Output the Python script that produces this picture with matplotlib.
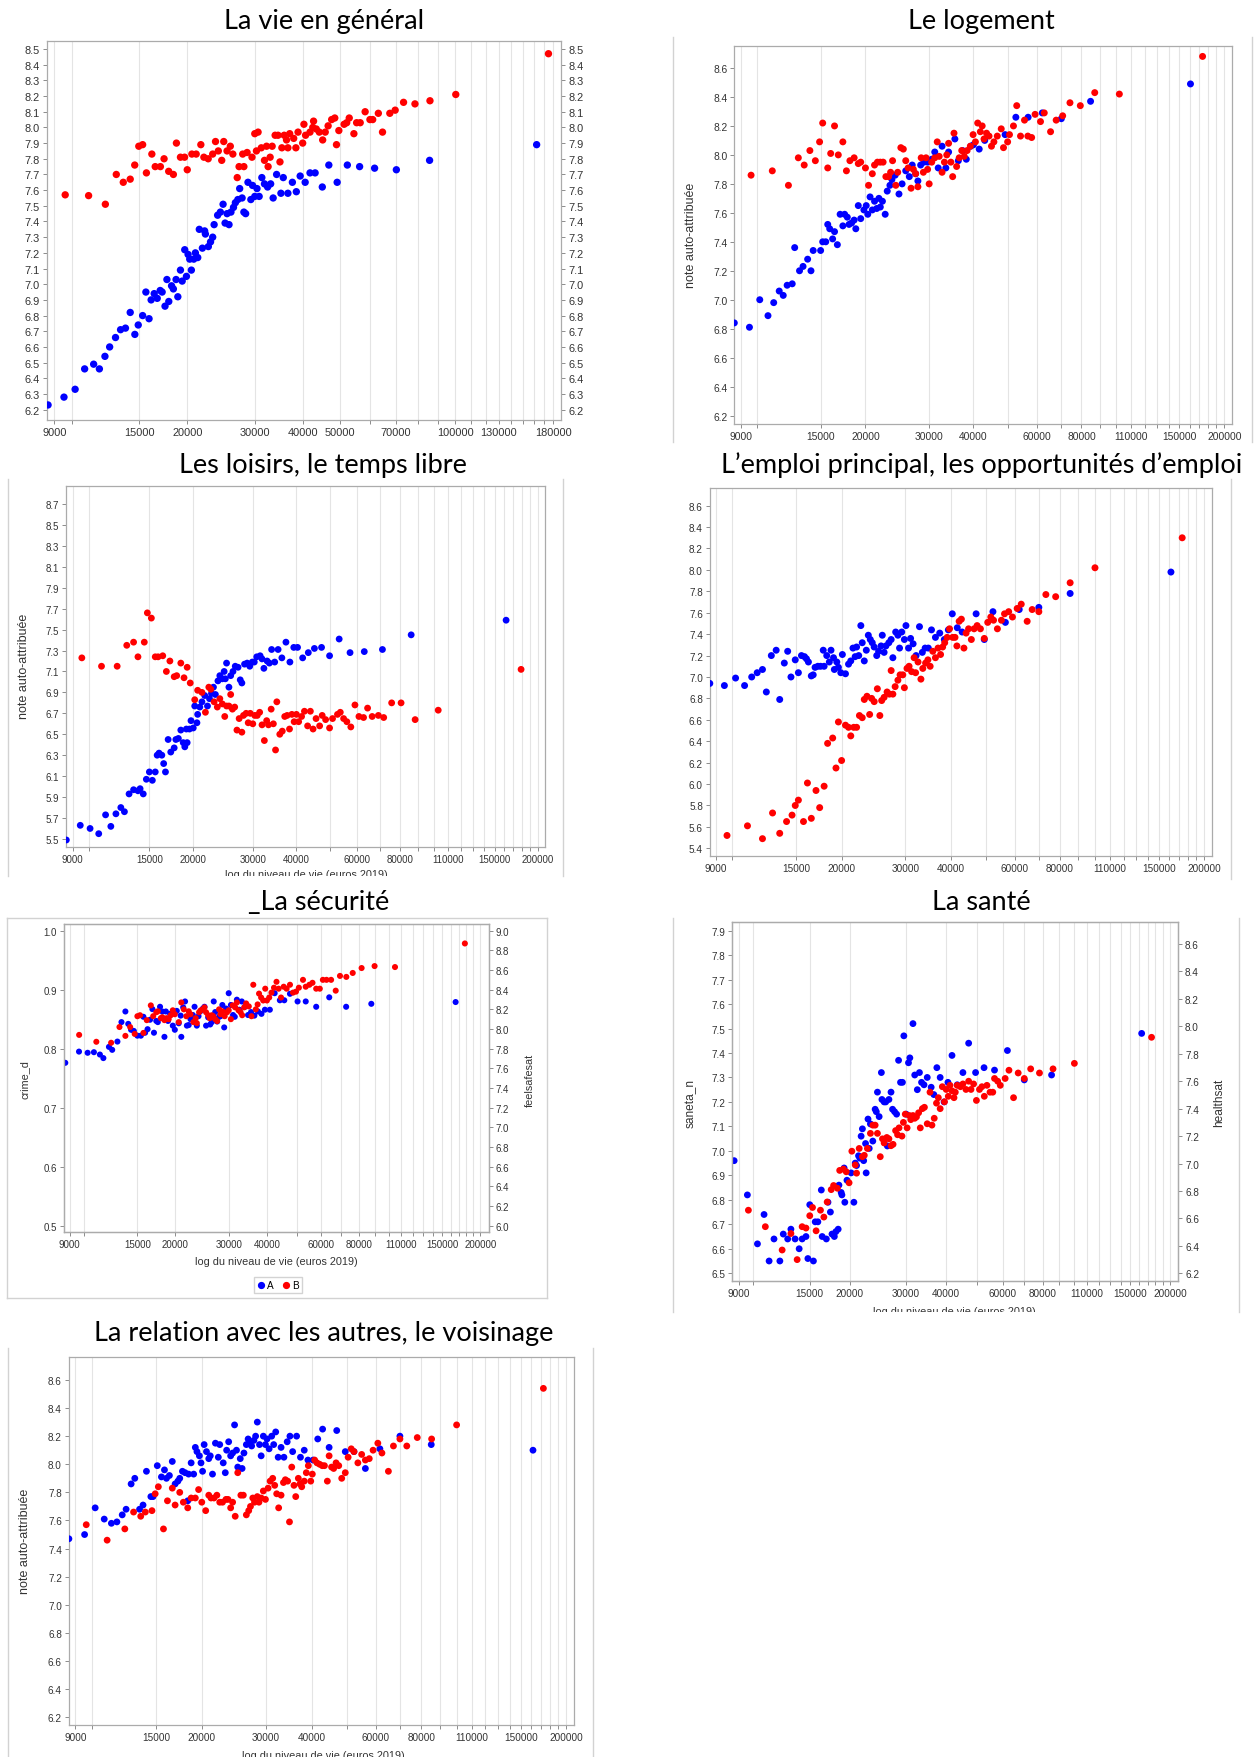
import matplotlib
matplotlib.use("Agg")
import matplotlib.pyplot as plt
import matplotlib.ticker as mticker
from matplotlib import font_manager as fm
from matplotlib.lines import Line2D
from matplotlib.transforms import Bbox, TransformedBbox
import numpy as np


def pick_font(names):
    for n in names:
        try:
            fm.findfont(fm.FontProperties(family=n), fallback_to_default=False)
            return n
        except Exception:
            pass
    return "DejaVu Sans"


TICK_FONT = pick_font(["Liberation Sans", "Arial"])
TITLE_FONT = pick_font(["Lato", "Open Sans"])
plt.rcParams["font.family"] = [TICK_FONT, "DejaVu Sans"]

# x axis: log du niveau de vie (euros 2019)
grid_vals = [9000, 10000, 15000, 20000] + list(range(30000, 210000, 10000))
labels_vie = [9000, 15000, 20000, 30000, 40000, 50000, 70000, 100000, 130000, 180000]
labels_std = [9000, 15000, 20000, 30000, 40000, 60000, 80000, 110000, 150000, 200000]

# ---- La vie en general (A = blue, B = red) ----
vie_a = [(8670, 6.23), (9540, 6.28), (10200, 6.33), (10800, 6.46), (11400, 6.49), (11800, 6.46),
         (12200, 6.54), (12550, 6.60), (13000, 6.66), (13400, 6.71), (13800, 6.72), (14200, 6.82),
         (14600, 6.68), (14900, 6.74), (15300, 6.80), (15600, 6.95), (15900, 6.78), (16100, 6.90),
         (16400, 6.94), (16700, 6.91), (17000, 6.96), (17200, 6.95), (17500, 6.86), (17700, 7.03),
         (17900, 6.89), (18200, 6.99), (18400, 6.97), (18700, 7.03), (18900, 6.92), (19200, 7.09),
         (19400, 7.02), (19700, 7.22), (19900, 7.05), (20100, 7.19), (20300, 7.16), (20500, 7.09),
         (20800, 7.16), (21000, 7.20), (21300, 7.17), (21500, 7.35), (21900, 7.23), (22200, 7.34),
         (22300, 7.32), (22700, 7.24), (23000, 7.27), (23300, 7.30), (23500, 7.38), (24000, 7.44),
         (24400, 7.46), (24800, 7.51), (25100, 7.39), (25400, 7.45), (25700, 7.38), (26000, 7.46),
         (26400, 7.49), (26700, 7.52), (27100, 7.54), (27400, 7.61), (27800, 7.55), (28100, 7.46),
         (28400, 7.45), (28800, 7.65), (29300, 7.54), (29600, 7.63), (30000, 7.56), (30400, 7.61),
         (30800, 7.56), (31300, 7.68), (31800, 7.64), (32400, 7.62), (33000, 7.64), (33500, 7.55),
         (34200, 7.70), (35100, 7.58), (35600, 7.68), (36600, 7.58), (37600, 7.65), (38500, 7.59),
         (39400, 7.69), (40600, 7.65), (41800, 7.71), (43100, 7.71), (45000, 7.62), (46800, 7.76),
         (49200, 7.65), (52300, 7.76), (56300, 7.75), (61600, 7.74), (70200, 7.73), (85700, 7.79),
         (163000, 7.89)]
vie_b = [(9610, 7.57), (11060, 7.565), (12230, 7.51), (13060, 7.70), (13620, 7.65), (14200, 7.67),
         (14590, 7.76), (14950, 7.88), (15300, 7.89), (15650, 7.71), (16170, 7.83), (16500, 7.75),
         (17020, 7.75), (17400, 7.80), (17890, 7.72), (18400, 7.70), (18740, 7.90), (19200, 7.81),
         (19680, 7.81), (20000, 7.73), (20560, 7.83), (21100, 7.83), (21700, 7.89), (22100, 7.81),
         (22680, 7.80), (23300, 7.83), (23700, 7.91), (24100, 7.85), (24600, 7.79), (24900, 7.91),
         (25400, 7.85), (25900, 7.88), (26300, 7.83), (27000, 7.68), (27300, 7.75), (28100, 7.75),
         (27900, 7.83), (28650, 7.84), (29500, 7.81), (30000, 7.96), (30600, 7.97), (30300, 7.85),
         (31200, 7.87), (31800, 7.79), (32200, 7.88), (32500, 7.75), (32900, 7.81), (33300, 7.88),
         (33900, 7.95), (34500, 7.95), (34900, 7.78), (35300, 7.87), (35800, 7.95), (36300, 7.92),
         (36600, 7.87), (37000, 7.96), (37900, 7.93), (38400, 7.87), (38900, 7.97), (40000, 7.90),
         (40300, 8.02), (40700, 7.95), (41800, 7.97), (42500, 8.00), (42700, 8.04), (43400, 7.99),
         (44200, 7.97), (45100, 7.92), (45800, 7.97), (46600, 8.01), (47600, 8.05), (48500, 8.06),
         (49000, 7.89), (49700, 7.98), (51300, 8.02), (52100, 8.03), (52900, 8.06), (54400, 7.96),
         (55300, 8.03), (56500, 8.03), (58200, 8.10), (59900, 8.05), (60900, 8.05), (63000, 8.09),
         (64600, 7.97), (67500, 8.09), (69700, 8.11), (73300, 8.16), (78500, 8.15), (85900, 8.17),
         (100300, 8.21), (175000, 8.47)]

# ---- Le logement ----
logement_a = [(8620, 6.84), (9500, 6.81), (10150, 7.00), (10700, 6.89), (11100, 6.98), (11500, 7.06),
              (11800, 7.03), (12100, 7.10), (12500, 7.11), (12700, 7.36), (13100, 7.20), (13400, 7.23),
              (13800, 7.28), (14100, 7.20), (14300, 7.34), (15000, 7.34), (15200, 7.40), (15500, 7.40),
              (15700, 7.52), (15900, 7.49), (16200, 7.42), (16400, 7.47), (16700, 7.38), (17000, 7.59),
              (17300, 7.51), (17500, 7.59), (17800, 7.57), (18000, 7.52), (18300, 7.53), (18600, 7.55),
              (18800, 7.49), (19100, 7.65), (19400, 7.56), (19800, 7.62), (20100, 7.65), (20300, 7.59),
              (20600, 7.71), (20900, 7.62), (21200, 7.68), (21500, 7.63), (21800, 7.70), (22000, 7.64),
              (22300, 7.68), (22700, 7.59), (23000, 7.75), (23400, 7.79), (23700, 7.83), (24200, 7.86),
              (24800, 7.73), (25300, 7.80), (25900, 7.89), (26500, 7.85), (27000, 7.93), (27600, 7.87),
              (28000, 7.82), (28500, 7.93), (29100, 7.95), (29800, 7.95), (30600, 7.97), (31200, 8.02),
              (31900, 7.91), (32700, 8.06), (33500, 7.91), (34100, 8.02), (35500, 8.11), (36300, 7.96),
              (37300, 8.03), (38200, 7.97), (39300, 8.06), (40000, 8.07), (41500, 8.04), (43000, 8.10),
              (49000, 8.14), (52500, 8.26), (56800, 8.26), (62200, 8.29), (70300, 8.25), (84800, 8.37),
              (161000, 8.49)]
logement_b = [(9600, 7.86), (11000, 7.89), (12200, 7.79), (13000, 7.98), (13500, 7.93), (14000, 8.03),
              (14500, 7.96), (14900, 8.09), (15200, 8.22), (15700, 7.91), (16000, 8.01), (16400, 8.20),
              (16800, 8.00), (17300, 8.09), (17700, 7.89), (18100, 7.96), (18600, 7.98), (19100, 7.94),
              (19400, 7.95), (20000, 7.91), (20400, 7.79), (20900, 7.87), (21200, 7.93), (21600, 7.95),
              (22000, 7.95), (22400, 7.95), (22800, 7.85), (23200, 7.85), (23500, 7.88), (23800, 7.96),
              (24300, 7.79), (24600, 7.88), (25100, 8.05), (25500, 8.04), (25900, 7.96), (26300, 7.91),
              (26800, 7.77), (27200, 7.90), (27600, 7.87), (28000, 7.78), (28600, 7.98), (29000, 7.88),
              (29500, 7.98), (29800, 7.90), (30100, 7.80), (30600, 7.95), (31200, 7.98), (31700, 8.09),
              (32100, 7.99), (32700, 7.88), (33200, 7.95), (33700, 8.00), (34100, 8.08), (34600, 7.95),
              (35000, 7.85), (35300, 8.15), (35900, 7.92), (36500, 7.98), (37100, 8.03), (37700, 7.99),
              (38400, 8.03), (39200, 8.06), (39900, 8.14), (40500, 8.09), (41100, 8.22), (41800, 8.16),
              (42300, 8.20), (42800, 8.11), (43500, 8.15), (44200, 8.13), (44900, 8.06), (45600, 8.09),
              (46600, 8.13), (47800, 8.18), (48500, 8.05), (49800, 8.09), (50400, 8.14), (51700, 8.20),
              (52800, 8.34), (54100, 8.13), (55500, 8.24), (56700, 8.13), (58100, 8.12), (59400, 8.28),
              (61500, 8.23), (63000, 8.29), (65600, 8.16), (68000, 8.24), (70900, 8.27), (74300, 8.36),
              (79400, 8.34), (87100, 8.43), (102000, 8.42), (174000, 8.68)]

# ---- Les loisirs, le temps libre ----
loisirs_a = [(8620, 5.49), (9460, 5.63), (10100, 5.60), (10700, 5.55), (11200, 5.73), (11600, 5.62),
             (12000, 5.74), (12400, 5.80), (12700, 5.76), (13100, 5.93), (13500, 5.97), (13900, 5.96),
             (14100, 5.98), (14400, 5.93), (14700, 6.07), (15000, 6.14), (15300, 6.06), (15600, 6.14),
             (15800, 6.30), (16000, 6.32), (16300, 6.30), (16500, 6.22), (16700, 6.14), (17000, 6.45),
             (17300, 6.33), (17700, 6.37), (17900, 6.45), (18200, 6.46), (18500, 6.54), (18800, 6.42),
             (19000, 6.38), (19300, 6.42), (19200, 6.55), (19600, 6.55), (19800, 6.63), (20100, 6.56),
             (20300, 6.77), (20600, 6.61), (20700, 6.69), (21000, 6.76), (21300, 6.81), (21700, 6.87),
             (22100, 6.77), (22400, 6.84), (22700, 6.89), (23000, 6.95), (23300, 6.88), (23700, 7.01),
             (24000, 7.06), (24400, 7.03), (24700, 7.10), (24900, 7.03), (25100, 7.18), (25500, 6.95),
             (25800, 7.06), (26200, 7.10), (26600, 7.15), (27100, 7.14), (27500, 7.02), (27800, 6.99),
             (28300, 7.17), (28800, 7.18), (29300, 7.15), (29800, 7.19), (30200, 7.19), (30700, 7.24),
             (31400, 7.25), (31800, 7.22), (32200, 7.13), (32900, 7.20), (33400, 7.18), (33900, 7.31),
             (34600, 7.19), (35400, 7.31), (36300, 7.23), (37300, 7.38), (38300, 7.19), (39300, 7.33),
             (40300, 7.33), (41700, 7.23), (43300, 7.28), (45100, 7.32), (47300, 7.33), (49900, 7.25),
             (53200, 7.41), (57200, 7.28), (62900, 7.29), (71000, 7.31), (86000, 7.45), (162000, 7.59)]
loisirs_b = [(9560, 7.23), (10900, 7.15), (12100, 7.15), (12900, 7.35), (13500, 7.38), (13900, 7.24),
             (14500, 7.38), (14800, 7.66), (15200, 7.61), (15600, 7.24), (15900, 7.24), (16400, 7.25),
             (16800, 7.10), (17200, 7.20), (17700, 7.05), (18000, 7.06), (18500, 7.18), (18900, 7.04),
             (19300, 7.14), (19700, 6.99), (20300, 6.83), (20700, 6.92), (21300, 6.90), (21800, 6.71),
             (22300, 6.95), (22600, 6.93), (23100, 6.81), (23600, 6.76), (24000, 6.84), (24400, 6.79),
             (24800, 6.67), (25100, 6.77), (25500, 6.77), (25800, 6.88), (26100, 6.74), (26500, 6.76),
             (26900, 6.54), (27300, 6.65), (27800, 6.52), (28100, 6.68), (28600, 6.70), (29000, 6.61),
             (29400, 6.70), (29900, 6.60), (30300, 6.68), (30800, 6.68), (31300, 6.71), (31800, 6.59),
             (32300, 6.44), (32800, 6.63), (33200, 6.59), (33800, 6.74), (34300, 6.60), (34800, 6.35),
             (35100, 6.81), (35800, 6.50), (36400, 6.53), (37000, 6.67), (37600, 6.68), (38200, 6.55),
             (38800, 6.69), (39400, 6.62), (40000, 6.69), (40600, 6.62), (41400, 6.67), (42200, 6.72),
             (43100, 6.58), (43900, 6.72), (44700, 6.55), (45600, 6.65), (46700, 6.58), (47500, 6.68),
             (48600, 6.64), (49900, 6.56), (50900, 6.65), (52600, 6.69), (53600, 6.71), (54800, 6.65),
             (56000, 6.62), (57500, 6.57), (59100, 6.78), (60700, 6.67), (62600, 6.66), (64300, 6.75),
             (66300, 6.67), (69100, 6.68), (71600, 6.66), (75500, 6.80), (80400, 6.80), (88300, 6.64),
             (103000, 6.73), (179000, 7.12)]

# ---- L'emploi principal ----
emploi_a = [(8660, 6.94), (9500, 6.92), (10200, 6.99), (10800, 6.92), (11300, 7.00), (11700, 7.04),
            (12100, 7.07), (12400, 6.86), (12800, 7.20), (13200, 7.25), (13500, 6.79), (13900, 7.13),
            (14200, 7.24), (14500, 7.00), (14900, 7.16), (15200, 7.04), (15500, 7.20), (15800, 7.19),
            (16000, 7.17), (16200, 7.14), (16500, 7.01), (16700, 7.02), (16900, 7.09), (17200, 7.10),
            (17500, 7.10), (17800, 7.25), (17900, 7.10), (18200, 7.20), (18500, 7.14), (18700, 7.25),
            (19000, 7.18), (19100, 7.07), (19400, 7.14), (19600, 7.09), (19900, 7.04), (20100, 7.21),
            (20500, 7.03), (20900, 7.12), (21200, 7.15), (21500, 7.27), (21800, 7.19), (22000, 7.28),
            (22300, 7.20), (22600, 7.48), (22800, 7.32), (23100, 7.15), (23400, 7.25), (23700, 7.39),
            (24000, 7.35), (24300, 7.32), (24600, 7.28), (25000, 7.20), (25300, 7.24), (25700, 7.29),
            (25900, 7.39), (26200, 7.23), (26500, 7.29), (27000, 7.32), (27400, 7.35), (27700, 7.18),
            (28200, 7.42), (28600, 7.39), (28900, 7.27), (29300, 7.42), (29800, 7.35), (30100, 7.48),
            (30600, 7.27), (31000, 7.36), (31500, 7.31), (32100, 7.20), (32800, 7.47), (33400, 7.23),
            (34000, 7.27), (34700, 7.27), (35400, 7.44), (36300, 7.37), (37300, 7.41), (38400, 7.35),
            (39400, 7.44), (40400, 7.59), (41700, 7.46), (43000, 7.42), (47000, 7.59), (49500, 7.35),
            (52300, 7.61), (56600, 7.51), (61800, 7.63), (70000, 7.65), (85400, 7.78), (162000, 7.98)]
emploi_b = [(9660, 5.52), (11000, 5.61), (12100, 5.49), (12900, 5.73), (13500, 5.54), (14100, 5.65),
            (14600, 5.71), (14900, 5.80), (15200, 5.85), (15700, 5.65), (16100, 6.01), (16500, 5.68),
            (17000, 5.94), (17400, 5.78), (17900, 5.98), (18300, 6.38), (18900, 6.43), (19300, 6.15),
            (19600, 6.58), (20000, 6.22), (20500, 6.55), (20900, 6.53), (21200, 6.45), (21600, 6.53),
            (22000, 6.53), (22400, 6.64), (22800, 6.62), (23100, 6.79), (23500, 6.82), (23900, 6.65),
            (24200, 6.80), (24600, 6.77), (25100, 6.89), (25500, 6.64), (25800, 6.78), (26200, 6.81),
            (26700, 6.86), (27100, 6.84), (27400, 7.06), (27700, 6.84), (28100, 6.91), (28600, 6.97),
            (29000, 7.02), (29500, 7.02), (29800, 6.90), (30300, 7.08), (30700, 7.10), (31200, 7.05),
            (31700, 7.18), (32000, 7.04), (32500, 7.14), (33100, 6.98), (33500, 7.08), (34100, 7.13),
            (34600, 7.16), (35100, 7.10), (35700, 7.24), (36300, 7.18), (36900, 7.27), (37500, 7.21),
            (38000, 7.28), (38500, 7.32), (39100, 7.37), (39700, 7.45), (40500, 7.37), (41100, 7.37),
            (41600, 7.29), (42200, 7.52), (42800, 7.54), (43500, 7.27), (44100, 7.41), (44800, 7.45),
            (45600, 7.35), (46400, 7.45), (47300, 7.48), (48300, 7.45), (49500, 7.36), (50600, 7.51),
            (51600, 7.56), (52500, 7.53), (53800, 7.45), (55200, 7.53), (56300, 7.59), (57800, 7.61),
            (59200, 7.56), (61000, 7.64), (62600, 7.68), (65000, 7.52), (67100, 7.63), (70000, 7.61),
            (73200, 7.77), (77900, 7.75), (85400, 7.88), (100000, 8.02), (174000, 8.30)]

# ---- La securite : crime_d (A, left) / feelsafesat (B, right) ----
crime_d = [(8700, 0.776), (9650, 0.795), (10300, 0.793), (10800, 0.794), (11300, 0.790), (11600, 0.784),
           (12100, 0.803), (12400, 0.798), (12900, 0.812), (13300, 0.845), (13700, 0.863), (14000, 0.842),
           (14300, 0.832), (14600, 0.830), (15000, 0.822), (15400, 0.822), (15700, 0.854), (15900, 0.827),
           (16200, 0.833), (16500, 0.849), (16800, 0.867), (17000, 0.827), (17300, 0.847), (17500, 0.845),
           (17800, 0.871), (18100, 0.863), (18400, 0.820), (18600, 0.863), (18900, 0.847), (19200, 0.859),
           (19600, 0.839), (19900, 0.832), (20200, 0.864), (20500, 0.843), (20800, 0.856), (20900, 0.820),
           (21200, 0.870), (21500, 0.880), (21800, 0.839), (22100, 0.840), (22400, 0.850), (22800, 0.857),
           (23100, 0.871), (23500, 0.839), (23800, 0.855), (24100, 0.863), (24600, 0.868), (24900, 0.871),
           (25200, 0.839), (25600, 0.853), (26000, 0.841), (26300, 0.845), (26700, 0.880), (27000, 0.862),
           (27400, 0.846), (27800, 0.854), (28100, 0.855), (28500, 0.874), (28900, 0.836), (29300, 0.868),
           (29900, 0.894), (30400, 0.874), (30900, 0.857), (31300, 0.854), (31800, 0.883), (32400, 0.866),
           (33000, 0.880), (33800, 0.871), (34600, 0.857), (35400, 0.862), (36300, 0.856), (37300, 0.863),
           (38300, 0.859), (39300, 0.866), (40800, 0.866), (42300, 0.894), (44000, 0.882), (45500, 0.882),
           (47500, 0.893), (50300, 0.880), (53500, 0.880), (57900, 0.871), (63900, 0.887), (72600, 0.871),
           (87800, 0.876), (166000, 0.879)]
feelsafesat = [(9660, 7.94), (11000, 7.87), (12300, 7.86), (13100, 8.02), (13700, 7.93), (14200, 8.02),
               (14700, 7.95), (15000, 8.13), (15300, 8.14), (15700, 7.96), (16100, 8.09), (16600, 8.24),
               (16900, 8.13), (17300, 8.17), (17500, 8.18), (17900, 8.11), (18100, 8.12), (18400, 8.09),
               (18700, 8.11), (19000, 8.10), (19300, 8.14), (19600, 8.19), (19900, 8.15), (20500, 8.07),
               (20900, 8.27), (21300, 8.20), (21700, 8.13), (22100, 8.18), (22400, 8.15), (22900, 8.07),
               (23300, 8.11), (23500, 8.06), (23900, 8.17), (24200, 8.19), (24600, 8.20), (24900, 8.22),
               (25200, 8.17), (25600, 8.14), (25900, 8.11), (26300, 8.14), (26600, 8.13), (27000, 8.10),
               (27400, 8.08), (27800, 8.20), (28100, 8.15), (28500, 8.18), (29000, 8.13), (29500, 8.17),
               (29900, 8.19), (30400, 8.10), (30800, 8.24), (31400, 8.22), (31800, 8.27), (32200, 8.19),
               (32700, 8.17), (33100, 8.14), (33600, 8.22), (34100, 8.26), (34800, 8.23), (35500, 8.13),
               (36000, 8.45), (36700, 8.20), (37200, 8.25), (37600, 8.36), (38200, 8.32), (38800, 8.29),
               (39400, 8.41), (39900, 8.29), (40600, 8.32), (41300, 8.37), (42100, 8.42), (42900, 8.48),
               (43600, 8.41), (44400, 8.32), (45300, 8.43), (46300, 8.41), (47500, 8.45), (48600, 8.37),
               (49700, 8.38), (50800, 8.42), (52400, 8.50), (53500, 8.43), (55000, 8.45), (56300, 8.47),
               (57900, 8.41), (59500, 8.41), (60900, 8.50), (62600, 8.50), (64800, 8.50), (67100, 8.39),
               (69300, 8.54), (72700, 8.53), (76300, 8.57), (81600, 8.62), (90000, 8.64), (105000, 8.63),
               (178000, 8.87)]

# ---- La sante : saneta_n (A, left) / healthsat (B, right) ----
saneta_n = [(8710, 6.96), (9580, 6.82), (10300, 6.62), (10800, 6.74), (11200, 6.55), (11600, 6.64),
            (12100, 6.55), (12400, 6.66), (12800, 6.64), (13100, 6.68), (13500, 6.64), (13900, 6.60),
            (14200, 6.64), (14600, 6.65), (14800, 6.56), (15000, 6.78), (15400, 6.55), (15600, 6.71),
            (15900, 6.71), (16300, 6.84), (16400, 6.65), (16900, 6.64), (17100, 6.79), (17400, 6.75),
            (17600, 6.66), (17900, 6.65), (18100, 6.67), (18400, 6.68), (18500, 6.86), (18800, 6.83),
            (18900, 6.82), (19200, 6.93), (19300, 6.79), (19600, 6.88), (20200, 6.91), (20600, 6.79),
            (20800, 6.95), (21000, 6.94), (21300, 6.98), (21500, 6.97), (21700, 7.06), (21900, 7.09),
            (22100, 6.96), (22400, 7.03), (22500, 6.91), (22800, 7.13), (23000, 7.01), (23200, 7.11),
            (23600, 7.04), (24000, 7.17), (24200, 7.16), (24400, 7.24), (24700, 7.14), (25100, 7.32),
            (25200, 7.21), (25600, 7.20), (25900, 7.20), (26200, 7.02), (26500, 7.21), (26900, 7.24),
            (27200, 7.17), (27600, 7.16), (28000, 7.15), (28400, 7.37), (28800, 7.28), (29200, 7.28),
            (29500, 7.47), (30000, 7.15), (30500, 7.36), (30800, 7.38), (31500, 7.52), (31900, 7.31),
            (32500, 7.25), (33000, 7.32), (33500, 7.28), (34100, 7.27), (34900, 7.30), (35900, 7.26),
            (36600, 7.23), (37400, 7.34), (38300, 7.30), (39400, 7.20), (40500, 7.28), (41700, 7.39),
            (43300, 7.27), (45100, 7.32), (47000, 7.44), (49400, 7.32), (52500, 7.34), (56600, 7.33),
            (62100, 7.41), (70100, 7.29), (85300, 7.31), (163000, 7.48)]
healthsat = [(9650, 6.66), (10900, 6.54), (12300, 6.37), (13100, 6.49), (13700, 6.30), (14200, 6.54),
             (14600, 6.53), (15000, 6.62), (15300, 6.68), (15700, 6.51), (16200, 6.66), (16600, 6.61),
             (17000, 6.72), (17500, 6.81), (17800, 6.84), (18300, 6.82), (18600, 6.95), (19100, 6.96),
             (19500, 6.94), (19900, 6.86), (20300, 7.09), (20800, 6.99), (21000, 6.93), (21400, 7.11),
             (21900, 7.05), (22200, 7.06), (22700, 7.11), (23200, 7.22), (23600, 7.28), (24000, 7.28),
             (24400, 7.22), (24900, 7.05), (25300, 7.18), (25600, 7.15), (26100, 7.19), (26500, 7.18),
             (26900, 7.13), (27300, 7.14), (27800, 7.24), (28200, 7.21), (28500, 7.26), (29100, 7.20),
             (29400, 7.30), (29800, 7.36), (30200, 7.26), (30700, 7.35), (31000, 7.32), (31500, 7.35),
             (31900, 7.33), (32300, 7.34), (32800, 7.37), (33200, 7.26), (33700, 7.40), (34200, 7.41),
             (34900, 7.29), (35600, 7.52), (36100, 7.28), (36700, 7.33), (37300, 7.44), (37800, 7.48),
             (38300, 7.40), (38900, 7.56), (39500, 7.45), (40000, 7.54), (40600, 7.49), (41100, 7.57),
             (41700, 7.53), (42300, 7.48), (42700, 7.52), (43300, 7.57), (44300, 7.56), (45100, 7.58),
             (46100, 7.54), (47000, 7.60), (47800, 7.54), (48700, 7.58), (49700, 7.46), (50800, 7.54),
             (51700, 7.56), (52600, 7.49), (53600, 7.57), (54800, 7.52), (55900, 7.52), (56600, 7.62),
             (57900, 7.60), (59000, 7.57), (61100, 7.62), (62800, 7.68), (64900, 7.48), (67100, 7.66),
             (70100, 7.62), (73400, 7.69), (78200, 7.66), (86200, 7.69), (100500, 7.73), (175000, 7.92)]

# ---- La relation avec les autres, le voisinage ----
relation_a = [(8640, 7.47), (9540, 7.50), (10200, 7.69), (10800, 7.61), (11300, 7.58), (11700, 7.59),
              (12100, 7.64), (12400, 7.68), (12800, 7.86), (13100, 7.90), (13500, 7.68), (13800, 7.71),
              (14100, 7.95), (14500, 7.77), (14700, 7.77), (15100, 7.99), (15500, 7.91), (15800, 7.96),
              (16000, 7.90), (16300, 7.92), (16600, 8.02), (16900, 7.86), (17200, 7.88), (17400, 7.90),
              (17700, 7.95), (18000, 7.94), (18300, 7.74), (18400, 7.93), (18700, 8.01), (19000, 7.93),
              (19200, 8.12), (19400, 8.09), (19700, 8.06), (19900, 8.01), (20100, 7.95), (20300, 8.14),
              (20600, 8.09), (20900, 8.04), (21100, 8.06), (21400, 7.93), (21800, 8.15), (22200, 8.05),
              (22400, 8.14), (22900, 8.01), (23200, 7.94), (23400, 8.10), (23700, 8.16), (24000, 8.06),
              (24300, 8.08), (24600, 8.28), (24900, 8.10), (25100, 7.98), (25500, 8.04), (25800, 7.97),
              (26100, 8.08), (26500, 8.14), (26800, 8.18), (27100, 8.16), (27400, 8.13), (27800, 8.17),
              (28100, 8.20), (28400, 8.30), (28800, 8.14), (29100, 8.06), (29500, 8.20), (29900, 8.14),
              (30200, 8.18), (30600, 8.11), (31100, 8.20), (31500, 8.14), (31900, 8.23), (32400, 8.05),
              (33000, 8.12), (33600, 8.05), (34300, 8.16), (34900, 8.20), (35500, 8.09), (36400, 8.20),
              (37300, 8.05), (38200, 8.10), (39100, 8.03), (40400, 8.03), (41600, 8.18), (42900, 8.25),
              (44700, 8.12), (46900, 8.24), (49500, 8.09), (52300, 8.09), (56200, 7.97), (61600, 8.11),
              (69900, 8.20), (85200, 8.14), (162000, 8.10)]
relation_b = [(9640, 7.57), (11000, 7.46), (12300, 7.54), (13000, 7.66), (13600, 7.63), (14000, 7.66),
              (14600, 7.67), (14900, 7.79), (15200, 7.84), (15700, 7.54), (16100, 7.74), (16600, 7.83),
              (16900, 7.71), (17400, 7.80), (17800, 7.73), (18300, 7.69), (18700, 7.76), (19200, 7.76),
              (19600, 7.82), (20000, 7.73), (20500, 7.67), (20900, 7.78), (21200, 7.76), (21600, 7.76),
              (22000, 7.78), (22400, 7.73), (22800, 7.73), (23300, 7.75), (23600, 7.75), (24000, 7.69),
              (24300, 7.73), (24700, 7.63), (25100, 7.94), (25600, 7.78), (26000, 7.78), (26500, 7.64),
              (26900, 7.67), (27200, 7.70), (27600, 7.76), (27900, 7.73), (28400, 7.77), (28700, 7.73),
              (29100, 7.76), (29500, 7.81), (29900, 7.75), (30400, 7.83), (30800, 7.88), (31300, 7.90),
              (31700, 7.85), (32100, 7.79), (32500, 7.69), (33000, 7.78), (33500, 7.87), (33900, 7.89),
              (34400, 7.88), (34800, 7.59), (35300, 7.98), (35800, 7.85), (36200, 7.77), (36800, 7.90),
              (37200, 7.86), (37600, 7.84), (38200, 7.88), (38700, 7.94), (39200, 7.99), (39800, 7.88),
              (40200, 7.93), (40800, 8.03), (41400, 8.01), (42100, 8.00), (42800, 7.99), (43400, 7.99),
              (44200, 7.88), (44700, 8.06), (45400, 7.98), (46000, 7.97), (46700, 8.01), (47500, 7.99),
              (48400, 7.90), (49500, 7.94), (50400, 8.05), (51400, 8.11), (52300, 8.09), (53600, 8.01),
              (54900, 8.07), (56200, 8.03), (57600, 8.04), (59000, 8.10), (60800, 8.15), (62400, 8.08),
              (65000, 7.95), (67100, 8.13), (69900, 8.18), (73000, 8.13), (78000, 8.19), (85400, 8.18),
              (100000, 8.28), (173000, 8.54)]

BLUE, RED = "#0000ff", "#ff0000"
W, H = 1256.0, 1758.0  # layout in output pixels

fig = plt.figure(figsize=(12.56, 17.58), dpi=100)
fig.patch.set_facecolor("white")


def fx(x):
    return x / W


def fy(y):
    return 1 - y / H


def style_axis(ax, yticks, size):
    ax.set_yticks(yticks)
    ax.set_yticklabels([f"{v:.1f}" for v in yticks])
    ax.tick_params(axis="both", direction="out", length=3, width=0.7, color="#8c8c8c",
                   labelsize=size, labelcolor="#333333", pad=2)
    for sp in ax.spines.values():
        sp.set_color("#ababab")
        sp.set_linewidth(0.9)


def panel(box, xlim, ylim, yticks, xlabels, size=7.2, right_copy=False):
    l, t, r, b = box
    ax = fig.add_axes([fx(l), fy(b), fx(r) - fx(l), fy(t) - fy(b)])
    ax.set_xscale("log")
    ax.set_xticks(grid_vals)
    ax.set_xticklabels([str(v) if v in xlabels else "" for v in grid_vals])
    ax.xaxis.set_minor_locator(mticker.NullLocator())
    ax.set_xlim(xlim)
    ax.set_ylim(ylim)
    style_axis(ax, yticks, size)
    ax.grid(axis="x", color="#e4e4e4", lw=0.8)
    ax.set_axisbelow(True)
    if right_copy:
        ax.tick_params(axis="y", right=True, labelright=True)
    return ax


def twin(ax, ylim, yticks, size=7.2):
    tw = ax.twinx()
    tw.set_ylim(ylim)
    style_axis(tw, yticks, size)
    return tw


def dots(ax, pts, color, s):
    xs, ys = zip(*pts)
    ax.scatter(xs, ys, s=s, c=color, edgecolors="none", zorder=3)


def title(x, y, txt):
    fig.text(fx(x), fy(y), txt, ha="center", va="center", fontsize=19.5,
             family=[TITLE_FONT, "DejaVu Sans"], color="black")


def vline(x, y0, y1):
    fig.add_artist(Line2D([fx(x), fx(x)], [fy(y0), fy(y1)], color="#d2d2d2", lw=1))


def hline(y, x0, x1):
    fig.add_artist(Line2D([fx(x0), fx(x1)], [fy(y), fy(y)], color="#d2d2d2", lw=1))


def side_label(x, y, txt, size=9):
    fig.text(fx(x), fy(y), txt, rotation=90, ha="center", va="center", fontsize=size, color="#333333")


def cut_label(x, y, clip_y, txt):
    t = fig.text(fx(x), fy(y), txt, ha="center", va="top", fontsize=7.8, color="#333333")
    t.set_clip_box(TransformedBbox(Bbox([[0, fy(clip_y)], [1, 1]]), fig.transFigure))
    t.set_clip_on(True)


XLAB = "log du niveau de vie (euros 2019)"

# 1. La vie en general
ax1 = panel((46.9, 41.7, 561.2, 420.7), (8610, 188900), (6.136, 8.553),
            np.round(np.arange(62, 86) / 10, 1), labels_vie, size=7.9, right_copy=True)
dots(ax1, vie_a, BLUE, 28)
dots(ax1, vie_b, RED, 28)
title(324.5, 21.7, "La vie en général")

# 2. Le logement
ax2 = panel((734.3, 46.7, 1232.1, 425), (8620, 210300), (6.142, 8.754),
            np.round(np.arange(31, 44) / 5, 1), labels_std, size=7.4)
dots(ax2, logement_a, BLUE, 25)
dots(ax2, logement_b, RED, 25)
title(981.8, 21.7, "Le logement")
side_label(691, 235.7, "note auto-attribuée")
vline(673.4, 38.3, 443)
vline(1251.7, 38.3, 443)

# 3. Les loisirs, le temps libre
ax3 = panel((65.8, 486.7, 545.3, 848.3), (8590, 210400), (5.42, 8.875),
            np.round(np.arange(55, 88, 2) / 10, 1), labels_std, size=7.0)
dots(ax3, loisirs_a, BLUE, 24)
dots(ax3, loisirs_b, RED, 24)
title(323.4, 465, "Les loisirs, le temps libre")
side_label(23.7, 666.7, "note auto-attribuée")
cut_label(306, 870, 876.7, XLAB)
vline(7.7, 480, 876.7)
vline(562.6, 480, 876.7)

# 4. L'emploi principal
ax4 = panel((709.9, 489, 1212.4, 856.7), (8665, 210800), (5.331, 8.765),
            np.round(np.arange(27, 44) / 5, 1), labels_std, size=7.2)
dots(ax4, emploi_a, BLUE, 25)
dots(ax4, emploi_b, RED, 25)
title(981.8, 465, "L’emploi principal, les opportunités d’emploi")
vline(1231.3, 480, 880)

# 5. La securite (two y axes)
ax5 = panel((63.6, 925, 488.5, 1233.3), (8590, 212800), (0.4887, 1.0113),
            np.round(np.arange(5, 11) / 10, 1), labels_std, size=7.0)
ax5b = twin(ax5, (5.932, 9.068), np.round(np.arange(30, 46) / 5, 1), size=7.0)
dots(ax5, crime_d, BLUE, 19)
dots(ax5b, feelsafesat, RED, 19)
title(318.9, 902.7, "_La sécurité")
side_label(24.3, 1080, "crime_d", size=7.8)
side_label(530.3, 1080, "feelsafesat", size=7.8)
fig.text(fx(276.8), fy(1261.7), XLAB, ha="center", va="center", fontsize=7.8, color="#333333")
handles = [Line2D([], [], marker="o", ls="", color=BLUE, ms=4.2),
           Line2D([], [], marker="o", ls="", color=RED, ms=4.2)]
ax5.legend(handles, ["A", "B"], ncol=2, loc="center", bbox_to_anchor=(fx(277.7), fy(1286.3)),
           bbox_transform=fig.transFigure, fontsize=7.2, frameon=True, fancybox=False,
           edgecolor="#c8c8c8", handletextpad=0.2, columnspacing=0.9, borderpad=0.3,
           handlelength=0.8)
vline(7.1, 919.3, 1299.3)
vline(547.1, 919.3, 1299.3)
hline(919.3, 7.1, 547.1)
hline(1299.3, 7.1, 547.1)

# 6. La sante (two y axes)
ax6 = panel((732.2, 923.3, 1178.1, 1282.3), (8590, 211800), (6.467, 7.934),
            np.round(np.arange(65, 80) / 10, 1), labels_std, size=7.2)
ax6b = twin(ax6, (6.142, 8.758), np.round(np.arange(31, 44) / 5, 1), size=7.2)
dots(ax6, saneta_n, BLUE, 24)
dots(ax6b, healthsat, RED, 24)
title(981.2, 902.7, "La santé")
side_label(690.4, 1103.3, "saneta_n", size=8.6)
side_label(1219.5, 1103.3, "healthsat", size=8.6)
cut_label(954.6, 1307, 1313.3, XLAB)
vline(673.3, 919.3, 1313.3)
vline(1238.5, 919.3, 1313.3)

# 7. La relation avec les autres
ax7 = panel((68.9, 1358.3, 574, 1726), (8640, 209900), (6.145, 8.761),
            np.round(np.arange(31, 44) / 5, 1), labels_std, size=7.2)
dots(ax7, relation_a, BLUE, 24)
dots(ax7, relation_b, RED, 24)
title(323.4, 1333.3, "La relation avec les autres, le voisinage")
side_label(24.9, 1541.7, "note auto-attribuée")
cut_label(323.4, 1751, 1758, XLAB)
vline(7.7, 1349.3, 1758)
vline(593.3, 1349.3, 1758)

fig.savefig("out.png", dpi=100, facecolor="white")
